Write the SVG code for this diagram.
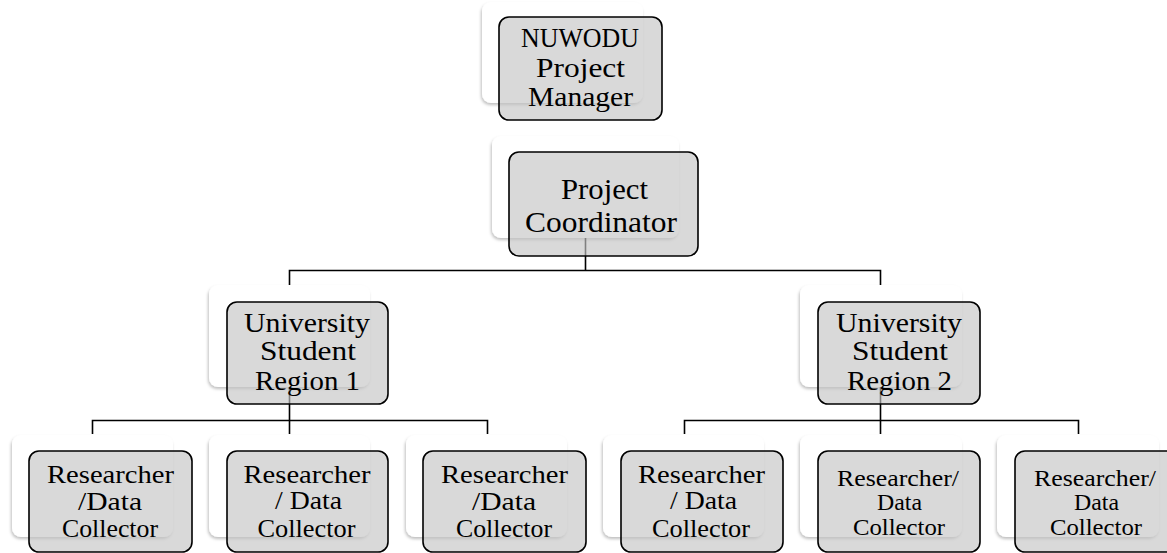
<svg xmlns="http://www.w3.org/2000/svg" width="1167" height="553" viewBox="0 0 1167 553">
<defs>
<filter id="sh" x="-10%" y="-10%" width="125%" height="130%">
<feDropShadow dx="-1" dy="2" stdDeviation="1.5" flood-color="#000" flood-opacity="0.25"/>
</filter>
</defs>
<style>
.bk{fill:#ffffff;filter:url(#sh)}
.fr{fill:#c4c4c4;fill-opacity:0.65;stroke:#000;stroke-width:1.6}
.c{fill:none;stroke:#000;stroke-width:1.6}
text{font-family:"Liberation Serif","Times New Roman",serif;fill:#000;text-anchor:middle}
.t{font-size:28px}
.l{font-size:29px}
.r{font-size:28px}
.m{font-size:25px}
.s{font-size:23px}
</style>
<rect width="1167" height="553" fill="#fff"/>
<g id="connectors">
<path class="c" d="M585.5 238V270.5M289.5 285V270.5H880.5V285"/>
<path class="c" d="M289.5 387V420.5M92.5 434V420.5H487.5V434M289.5 420.5V434"/>
<path class="c" d="M880.5 387V420.5M684.5 434V420.5H1078.5V434M880.5 420.5V434"/>
</g>
<g id="n-manager">
<rect class="bk" x="482" y="2" width="161" height="101" rx="9"/>
<rect class="fr" x="499" y="17" width="163" height="103" rx="10"/>
<text class="t" x="580" y="47" textLength="118" lengthAdjust="spacingAndGlyphs">NUWODU</text>
<text class="t" x="580.5" y="77" textLength="89" lengthAdjust="spacingAndGlyphs">Project</text>
<text class="t" x="580.5" y="106" textLength="105" lengthAdjust="spacingAndGlyphs">Manager</text>
</g>
<g id="n-coordinator">
<rect class="bk" x="492" y="136" width="187" height="102" rx="9"/>
<rect class="fr" x="509" y="152" width="189" height="104" rx="10"/>
<text class="l" x="604.5" y="199" textLength="87" lengthAdjust="spacingAndGlyphs">Project</text>
<text class="l" x="601" y="232" textLength="152" lengthAdjust="spacingAndGlyphs">Coordinator</text>
</g>
<g id="n-region1">
<rect class="bk" x="209" y="285" width="161" height="102" rx="9"/>
<rect class="fr" x="227" y="302" width="161" height="102" rx="10"/>
<text class="r" x="307" y="332" textLength="126" lengthAdjust="spacingAndGlyphs">University</text>
<text class="r" x="308" y="360" textLength="96" lengthAdjust="spacingAndGlyphs">Student</text>
<text class="r" x="307.5" y="390" textLength="105" lengthAdjust="spacingAndGlyphs">Region 1</text>
</g>
<g id="n-region2">
<rect class="bk" x="800" y="285" width="162" height="102" rx="9"/>
<rect class="fr" x="818" y="302" width="162" height="102" rx="10"/>
<text class="r" x="899" y="332" textLength="126" lengthAdjust="spacingAndGlyphs">University</text>
<text class="r" x="900" y="360" textLength="96" lengthAdjust="spacingAndGlyphs">Student</text>
<text class="r" x="899.5" y="390" textLength="105" lengthAdjust="spacingAndGlyphs">Region 2</text>
</g>
<g id="n-r1">
<rect class="bk" x="12" y="435" width="161" height="102" rx="9"/>
<rect class="fr" x="29" y="451" width="163" height="101" rx="10"/>
<text class="m" x="110.5" y="483" textLength="127" lengthAdjust="spacingAndGlyphs">Researcher</text>
<text class="m" x="110" y="510" textLength="64" lengthAdjust="spacingAndGlyphs">/Data</text>
<text class="m" x="110" y="537" textLength="96" lengthAdjust="spacingAndGlyphs">Collector</text>
</g>
<g id="n-r2">
<rect class="bk" x="209" y="435" width="161" height="102" rx="9"/>
<rect class="fr" x="227" y="451" width="161" height="101" rx="10"/>
<text class="m" x="307" y="483" textLength="127" lengthAdjust="spacingAndGlyphs">Researcher</text>
<text class="m" x="308.5" y="509" textLength="67" lengthAdjust="spacingAndGlyphs">/ Data</text>
<text class="m" x="306.5" y="537" textLength="98" lengthAdjust="spacingAndGlyphs">Collector</text>
</g>
<g id="n-r3">
<rect class="bk" x="406" y="435" width="161" height="102" rx="9"/>
<rect class="fr" x="423" y="451" width="163" height="101" rx="10"/>
<text class="m" x="504.5" y="483" textLength="127" lengthAdjust="spacingAndGlyphs">Researcher</text>
<text class="m" x="504" y="510" textLength="64" lengthAdjust="spacingAndGlyphs">/Data</text>
<text class="m" x="504" y="537" textLength="96" lengthAdjust="spacingAndGlyphs">Collector</text>
</g>
<g id="n-r4">
<rect class="bk" x="603" y="435" width="161" height="102" rx="9"/>
<rect class="fr" x="621" y="451" width="162" height="101" rx="10"/>
<text class="m" x="701.5" y="483" textLength="127" lengthAdjust="spacingAndGlyphs">Researcher</text>
<text class="m" x="703.5" y="509" textLength="67" lengthAdjust="spacingAndGlyphs">/ Data</text>
<text class="m" x="701" y="537" textLength="98" lengthAdjust="spacingAndGlyphs">Collector</text>
</g>
<g id="n-r5">
<rect class="bk" x="800" y="435" width="162" height="102" rx="9"/>
<rect class="fr" x="818" y="451" width="162" height="101" rx="10"/>
<text class="s" x="898" y="486" textLength="122" lengthAdjust="spacingAndGlyphs">Researcher/</text>
<text class="s" x="899.5" y="510" textLength="45" lengthAdjust="spacingAndGlyphs">Data</text>
<text class="s" x="899" y="535" textLength="92" lengthAdjust="spacingAndGlyphs">Collector</text>
</g>
<g id="n-r6">
<rect class="bk" x="997" y="435" width="162" height="102" rx="9"/>
<rect class="fr" x="1015" y="451" width="162" height="101" rx="10"/>
<text class="s" x="1095" y="486" textLength="122" lengthAdjust="spacingAndGlyphs">Researcher/</text>
<text class="s" x="1096.5" y="510" textLength="45" lengthAdjust="spacingAndGlyphs">Data</text>
<text class="s" x="1096" y="535" textLength="92" lengthAdjust="spacingAndGlyphs">Collector</text>
</g>
</svg>
